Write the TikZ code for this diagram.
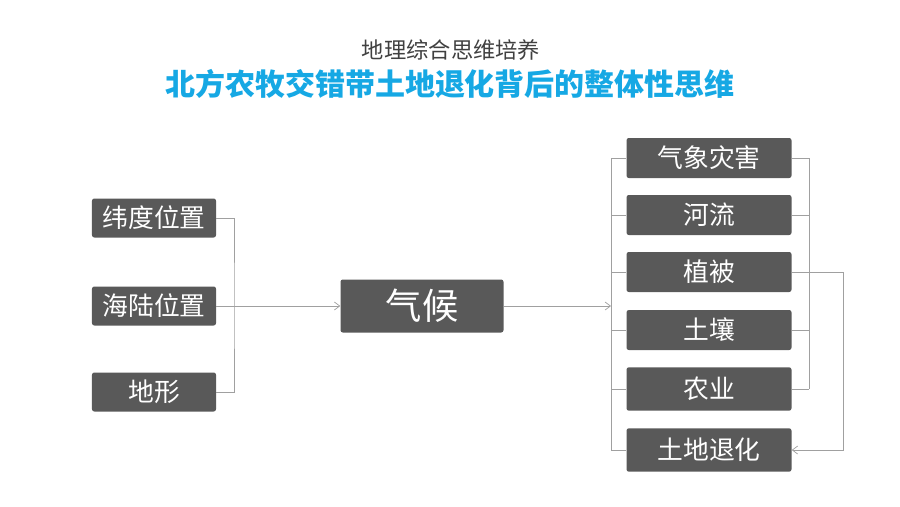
\documentclass[tikz,border=0pt]{standalone}
\usepackage{fontspec}
\setmainfont{Noto Sans CJK SC}
\usepackage{xcolor}
\usepackage{tikz}
\usetikzlibrary{positioning}
\usetikzlibrary{arrows.meta}
\definecolor{box fill}{RGB}{89,89,89}
\definecolor{link gray}{RGB}{160,160,160}
\definecolor{title blue}{RGB}{22,168,228}
\definecolor{sub gray}{RGB}{64,64,64}
\tikzset{block/.style={fill=box fill, rounded corners=2pt, text=white, inner sep=0pt,
        minimum width=3.72cm, minimum height=1.17cm, font=\fontsize{22}{22}\selectfont},
    rblock/.style={block, minimum width=4.95cm, minimum height=1.2cm},
    link/.style={draw=link gray, line width=0.6pt},
    arrowlink/.style={link, -{Straight Barb[length=1.6mm,width=2.4mm]}}}

\begin{document}
\begin{tikzpicture}[x=0.03cm,y=-0.03cm]
    \useasboundingbox (0,0) rectangle (900,506);
    % heading
    \node[text=sub gray, font=\fontsize{19}{19}\selectfont] (sub) at (451,50) {地理综合思维培养};
    \node[text=title blue, font=\fontsize{25.6}{26}\selectfont\bfseries] (title) at (450,84) {北方农牧交错带土地退化背后的整体性思维};
    % factors on the left
    \node[block] (wd) at (154,218) {纬度位置};
    \node[block] (hl) at (154,306) {海陆位置};
    \node[block] (dx) at (154,392) {地形};
    \node[block, minimum width=4.89cm, minimum height=1.59cm, font=\fontsize{31}{31}\selectfont] (qh) at (422,306) {气候};
    % elements on the right
    \node[rblock] (qx) at (709,158) {气象灾害};
    \node[rblock] (hel) at (709,215) {河流};
    \node[rblock] (zb) at (709,272) {植被};
    \node[rblock] (tr) at (709,330) {土壤};
    \node[rblock, minimum height=1.3cm] (ny) at (709,389) {农业};
    \node[rblock, minimum height=1.3cm] (tdth) at (709,450) {土地退化};
    \coordinate (lbus) at (234,306);
    \coordinate (rbus) at (611,306);
    \coordinate (rbrace) at (809,306);
    \draw[link] (wd.east) -| (lbus) |- (dx.east);
    \draw[arrowlink] (hl.east) -- (qh.west);
    \draw[arrowlink] (qh.east) -- (rbus);
    \draw[link] (qx.west -| rbus) -- (tdth.west -| rbus);
    \foreach \n in {qx,hel,zb,tr,ny,tdth}
        \draw[link] (\n.west) -- (\n.west -| rbus);
    \draw[link] (qx.east -| rbrace) -- (ny.east -| rbrace);
    \foreach \n in {qx,hel,tr,ny}
        \draw[link] (\n.east) -- (\n.east -| rbrace);
    \draw[arrowlink] (zb.east) -- ++(52,0) |- (tdth.east);
\end{tikzpicture}
\end{document}
